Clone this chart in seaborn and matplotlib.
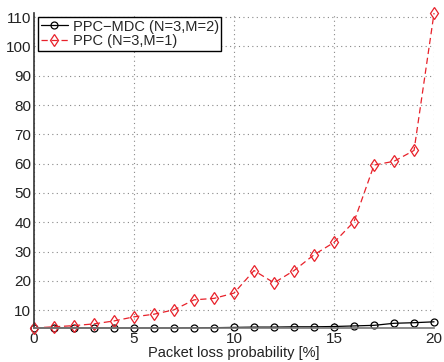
import numpy as np
import pandas as pd
import matplotlib
matplotlib.use("Agg")
import matplotlib.pyplot as plt
import seaborn as sns

loss = list(range(0, 21))
ppc_mdc = [3.9, 3.9, 3.9, 3.9, 3.9, 3.9, 3.9, 3.9, 3.95, 4.0, 4.1, 4.2, 4.2, 4.3, 4.3, 4.4, 4.6, 4.8, 5.5, 5.7, 6.0]
ppc = [3.9, 4.3, 4.7, 5.3, 6.3, 7.7, 8.6, 10.1, 13.5, 14.0, 15.8, 23.5, 19.3, 23.5, 28.9, 33.1, 40.2, 59.5, 60.8, 64.5, 111.4]
labels = ["PPC\u2212MDC (N=3,M=2)", "PPC (N=3,M=1)"]

df1 = pd.DataFrame({"x": loss, "y": ppc_mdc})
df2 = pd.DataFrame({"x": loss, "y": ppc})

sns.set_style("white")
plt.rcParams['font.family'] = ['Liberation Sans', 'DejaVu Sans']

fig = plt.figure(figsize=(4.44, 3.62), dpi=100)
ax = fig.add_axes([0.0766, 0.094, 0.901, 0.870])

sns.lineplot(data=df1, x="x", y="y", ax=ax, color="black", lw=0.9,
             marker="o", markersize=5, markerfacecolor="none",
             markeredgecolor="black", markeredgewidth=0.9, label=labels[0], clip_on=False)
sns.lineplot(data=df2, x="x", y="y", ax=ax, color="#e8212a", lw=0.9,
             marker="d", markersize=6, markerfacecolor="none",
             markeredgecolor="#e8212a", markeredgewidth=0.9, label=labels[1], clip_on=False)
ax.lines[1].set_dashes([5, 3])

ax.set_xlim(0, 20)
ax.set_ylim(3.9, 111.4)
ax.set_xticks([0, 5, 10, 15, 20])
ax.set_yticks(list(range(10, 111, 10)))
ax.tick_params(direction="in", labelsize=11, length=3, colors="#222222", pad=2)
ax.tick_params(axis="x", pad=3)
ax.grid(True, linestyle=(0, (1, 3)), color="#888888", lw=0.8)
for s in ["top", "right"]:
    ax.spines[s].set_visible(False)
ax.spines["left"].set_color("#333333")
ax.spines["bottom"].set_color("#777777")
ax.spines["left"].set_linewidth(1.2)
ax.spines["bottom"].set_linewidth(1.2)
ax.set_xlabel("Packet loss probability [%]", fontsize=10.5, labelpad=0, color="#222222")
ax.set_ylabel("")

leg = ax.legend(loc="upper left", fontsize=10.5, frameon=True, fancybox=False,
                borderpad=0.15, handlelength=1.9, handletextpad=0.3,
                labelspacing=0.05, borderaxespad=0.3)
leg.get_frame().set_edgecolor("black")
leg.get_frame().set_linewidth(1.0)
leg.get_frame().set_alpha(1)

fig.savefig("out.png", dpi=100)
